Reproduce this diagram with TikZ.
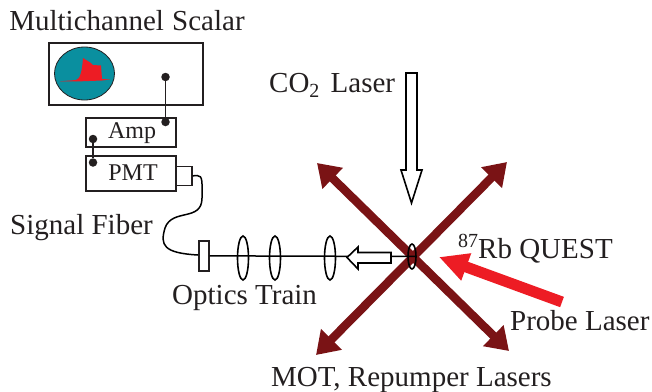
\documentclass[tikz,border=0pt]{standalone}
\usepackage{fontspec}
\setmainfont{Liberation Serif}
\usetikzlibrary{arrows.meta,calc,shapes.geometric}
\definecolor{motred}{HTML}{7A1315}
\definecolor{probered}{HTML}{ED1C24}
\definecolor{screenteal}{HTML}{0A8F9F}
\definecolor{inkgray}{HTML}{231F20}
\newcommand{\lowtwo}{\raisebox{-5pt}{\fontsize{20}{20}\selectfont 2}}
\newcommand{\hightag}[1]{\raisebox{11pt}{\fontsize{20}{20}\selectfont #1}}
\tikzset{
  biglabel/.style={font=\fontsize{29}{32}\selectfont, text=inkgray, inner sep=0pt},
  smalllabel/.style={font=\fontsize{24}{28}\selectfont, text=inkgray, inner sep=0pt},
  unit/.style={draw=inkgray, line width=1.7pt, inner sep=0pt, anchor=north west},
  wire/.style={draw=inkgray, line width=1.5pt},
  terminal/.style={circle, fill=inkgray, inner sep=0pt, minimum size=8.5pt},
  lens/.style={ellipse, draw=black, line width=1.6pt, inner sep=0pt},
  motbeam/.style={draw=motred, line width=8.5pt, {Triangle[length=22pt,width=28pt]}-{Triangle[length=22pt,width=28pt]}},
  openarrow/.style={draw=black, fill=white, line width=1.6pt, miter limit=10}
}
\begin{document}
\begin{tikzpicture}[x=1pt,y=-1pt]
  \useasboundingbox (0,0) rectangle (652,391);
  % detector chain
  \node[unit, line width=2.2pt, minimum width=154pt, minimum height=62pt] (scalar) at (48,42) {};
  \node[ellipse, draw=inkgray, fill=screenteal, line width=.8pt, minimum width=60pt, minimum height=53pt, inner sep=0pt] (screen) at (84.5,73.5) {};
  \fill[probered] (60,81.3) -- (76,80) .. controls (80,79) and (82,72) .. (83,58) -- (91,63) -- (93,65) -- (101,65.5) -- (102,79) -- (110,79.5) -- (102,80.5) -- (76,81.5) -- cycle;
  \node[unit, minimum width=90pt, minimum height=29pt] (amp) at (85,117) {};
  \node[smalllabel] at (132,133) {Amp};
  \node[unit, minimum width=90pt, minimum height=35pt] (pmt) at (85,155) {};
  \node[smalllabel] at (133,172.5) {PMT};
  \node[unit, minimum width=16pt, minimum height=19pt] (window) at (175,165.5) {};
  \node[terminal] (scalarout) at (165.5,77) {};
  \node[terminal] (ampin) at (165.5,122) {};
  \node[terminal] (ampout) at (93,139) {};
  \node[terminal] (pmtout) at (93,162.5) {};
  \draw[wire] (scalarout) -- (ampin);
  \draw[wire] (ampout) -- (pmtout);
  % fiber and optics
  \node[unit, fill=white, minimum width=10pt, minimum height=30pt] (coupler) at (198,240) {};
  \draw[wire, draw=black] (window.east) -- (197,175.5) .. controls (203,175.5) and (202,182) .. (202,198) .. controls (202,222) and (172,208) .. (165,228) .. controls (160,245) and (163,253) .. (198,255);
  \coordinate (trap) at (412,256.5);
  \node[lens, minimum width=11pt, minimum height=44pt] (lensa) at (243,258) {};
  \node[lens, minimum width=11pt, minimum height=44pt] (lensb) at (275,258) {};
  \node[lens, minimum width=11pt, minimum height=44pt] (lensc) at (330,258) {};
  % lasers
  \coordinate (motnw) at (317,163);
  \coordinate (motse) at (509,351);
  \coordinate (motsw) at (316,355);
  \coordinate (motne) at (507,162);
  \draw[motbeam] (motnw) -- (motse);
  \draw[motbeam] (motsw) -- (motne);
  \node[lens, minimum width=8pt, minimum height=25pt] (cloud) at (trap) {};
  \draw[black, line width=1.5pt] (coupler.east) -- (cloud.east);
  \draw[openarrow] (391,252.5) -- (358,252.5) -- (358,247) -- (347,257.5) -- (358,269) -- (358,263) -- (391,263) -- cycle;
  \draw[openarrow] (406,73) -- (417,73) -- (417,170) -- (422,170) -- (411.5,203) -- (401,170) -- (406,170) -- cycle;
  \coordinate (probetip) at (439,257);
  \coordinate (probetail) at (562,302);
  \draw[probered, line width=11pt, -{Triangle[length=29pt,width=27pt]}] (probetail) -- (probetip);
  % labels
  \node[biglabel] at (127,21) {Multichannel\hspace{1pt} Scalar};
  \node[biglabel, anchor=base west] at (269,92) {CO\lowtwo{}\hspace{4pt} Laser};
  \node[biglabel, anchor=base west] at (10,234) {Signal Fiber};
  \node[biglabel, anchor=base west] at (172,304) {Optics Train};
  \node[biglabel, anchor=base west] at (458,258) {\hightag{87}Rb QUEST};
  \node[biglabel, anchor=base west] at (510,330) {Probe Laser};
  \node[biglabel, anchor=base west] at (271,386) {MOT, Repumper Lasers};
\end{tikzpicture}
\end{document}
